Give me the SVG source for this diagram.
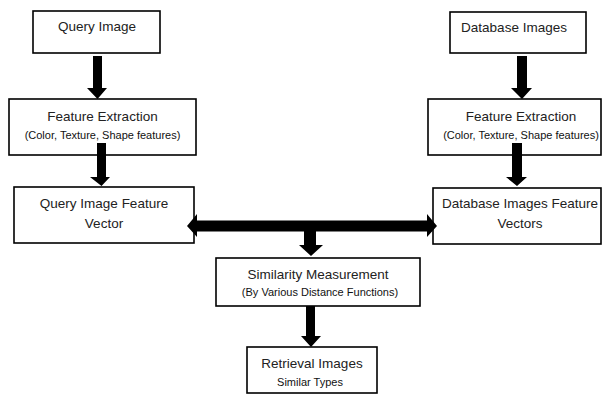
<svg xmlns="http://www.w3.org/2000/svg" width="603" height="396" viewBox="0 0 603 396">
<style>
.box{fill:#fff;stroke:#000;stroke-width:1.6}
.t{font-family:"Liberation Sans",Arial,sans-serif;font-size:13.5px;fill:#222;text-anchor:middle}
.s{font-family:"Liberation Sans",Arial,sans-serif;font-size:11px;fill:#111;text-anchor:middle}
.arr{fill:#000}
</style>
<rect width="603" height="396" fill="#fff"/>
<g id="query-image">
<rect class="box" x="33" y="11" width="127" height="42"/>
<text class="t" x="97" y="31">Query Image</text>
</g>
<g id="database-images">
<rect class="box" x="450" y="12" width="136" height="41"/>
<text class="t" x="514" y="32">Database Images</text>
</g>
<g id="feature-extraction-left">
<rect class="box" x="9" y="99" width="187" height="56"/>
<text class="t" x="102.5" y="121">Feature Extraction</text>
<text class="s" x="102.5" y="139">(Color, Texture, Shape features)</text>
</g>
<g id="feature-extraction-right">
<rect class="box" x="428" y="99" width="173" height="56"/>
<text class="t" x="521" y="121">Feature Extraction</text>
<text class="s" x="521" y="139">(Color, Texture, Shape features)</text>
</g>
<g id="query-feature-vector">
<rect class="box" x="14" y="187" width="180" height="56"/>
<text class="t" x="104" y="208">Query Image Feature</text>
<text class="t" x="104" y="228">Vector</text>
</g>
<g id="database-feature-vectors">
<rect class="box" x="433" y="188" width="168" height="56"/>
<text class="t" x="520" y="208">Database Images Feature</text>
<text class="t" x="520" y="228">Vectors</text>
</g>
<g id="similarity-measurement">
<rect class="box" x="216" y="258" width="204" height="48"/>
<text class="t" x="318" y="279">Similarity Measurement</text>
<text class="s" x="320" y="296">(By Various Distance Functions)</text>
</g>
<g id="retrieval-images">
<rect class="box" x="247" y="347" width="130" height="46"/>
<text class="t" x="312" y="368">Retrieval Images</text>
<text class="s" x="310" y="386">Similar Types</text>
</g>
<g id="connectors">
<polygon class="arr" points="93,56 102,56 102,88 107,88 97.5,99 87,88 93,88"/>
<polygon class="arr" points="97,143 106,143 106,177 110,177 101.5,186 90,177 97,177"/>
<polygon class="arr" points="517,56 527,56 527,88 532,88 522,99 511,88 517,88"/>
<polygon class="arr" points="512,143 522,143 522,177 527,177 517,186 506,177 512,177"/>
<polygon class="arr" points="187,226 197,214 197,220.5 427,220.5 427,214 437,226 427,237 427,231.5 197,231.5 197,237"/>
<polygon class="arr" points="304,231 316,231 316,245 323,245 311,256 299,245 304,245"/>
<polygon class="arr" points="306,306 315,306 315,336 321,336 311,347 301,336 306,336"/>
</g>
</svg>
